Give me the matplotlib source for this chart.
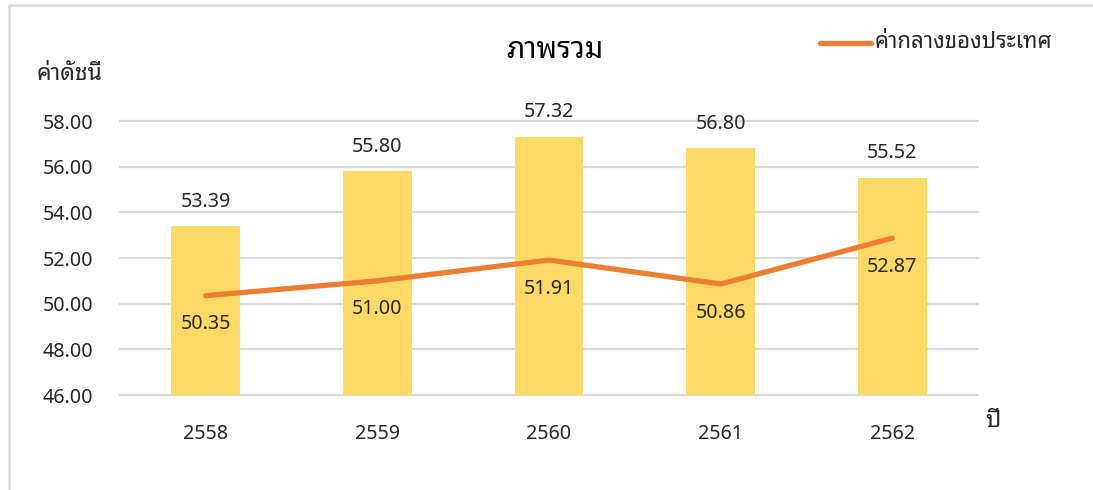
import matplotlib
matplotlib.use("Agg")
import matplotlib.pyplot as plt
from matplotlib.lines import Line2D
import numpy as np

years = ["2558", "2559", "2560", "2561", "2562"]
region_values = [53.39, 55.80, 57.32, 56.80, 55.52]
national_median = [50.35, 51.00, 51.91, 50.86, 52.87]
y_ticks = [46, 48, 50, 52, 54, 56, 58]

title = "ภาพรวม"
y_label = "ค่าดัชนี"
x_label = "ปี"
line_label = "ค่ากลางของประเทศ"

FONT = ["Noto Sans", "Noto Sans Thai Looped", "DejaVu Sans"]
plt.rcParams["font.family"] = FONT

BAR_C = "#FFD966"
LINE_C = "#ED7D31"
GRID_C = "#D9D9D9"
TXT_C = "#262626"
NUM_FS = 14.2

W, H = 1093, 490
fig = plt.figure(figsize=(W / 100, H / 100), dpi=100)

# plot area in pixels: x 120..978, y 121 (58) .. 395 (46)
left, right, top, bottom = 120, 978, 121, 395
ax = fig.add_axes([left / W, 1 - bottom / H, (right - left) / W, (bottom - top) / H])

x = np.arange(len(years))
ax.bar(x, [v - 46 for v in region_values], bottom=46, width=0.4, color=BAR_C, zorder=2)
ax.plot(x, national_median, color=LINE_C, lw=3.8, solid_capstyle="round",
        solid_joinstyle="round", zorder=3)

ax.set_xlim(-0.5, len(years) - 0.5)
ax.set_ylim(46, 58)
ax.set_yticks(y_ticks)
ax.set_yticklabels([f"{t:.2f}" for t in y_ticks])
ax.set_xticks(x)
ax.set_xticklabels(years)
ax.tick_params(axis="both", length=0, labelsize=NUM_FS, colors=TXT_C)
ax.tick_params(axis="y", pad=19.5)
ax.tick_params(axis="x", pad=21)
for yt in y_ticks:
    ax.axhline(yt, color=GRID_C, lw=1.6, zorder=0, clip_on=False)
for s in ax.spines.values():
    s.set_visible(False)

for xi, v in zip(x, region_values):
    ax.annotate(f"{v:.2f}", (xi, v), xytext=(0, 10.5), textcoords="offset points",
                ha="center", va="bottom", fontsize=NUM_FS, color=TXT_C, annotation_clip=False)
for xi, v in zip(x, national_median):
    ax.annotate(f"{v:.2f}", (xi, v), xytext=(0, -20.5), textcoords="offset points",
                ha="center", va="center", fontsize=NUM_FS, color=TXT_C, annotation_clip=False)

fig.text(555 / W, 1 - 50 / H, title, ha="center", va="center", fontsize=21,
         fontweight="bold", color="black")
fig.text(37 / W, 1 - 74 / H, y_label, ha="left", va="center", fontsize=16.5, color=TXT_C)
fig.text(985 / W, 1 - 421 / H, x_label, ha="left", va="center", fontsize=17, color=TXT_C)

# legend
fig.add_artist(Line2D([820 / W, 871 / W], [1 - 43 / H, 1 - 43 / H], color=LINE_C, lw=3.8,
                      solid_capstyle="round", transform=fig.transFigure))
fig.text(875 / W, 1 - 43 / H, line_label, ha="left", va="center", fontsize=16, color=TXT_C)

# chart frame (top and left edges visible)
fig.add_artist(Line2D([8.5 / W, 8.5 / W, 1.0], [0.0, 1 - 5.5 / H, 1 - 5.5 / H],
                      color="#D9D9D9", lw=1.8, transform=fig.transFigure))

fig.savefig("out.png", dpi=100, facecolor="white")
